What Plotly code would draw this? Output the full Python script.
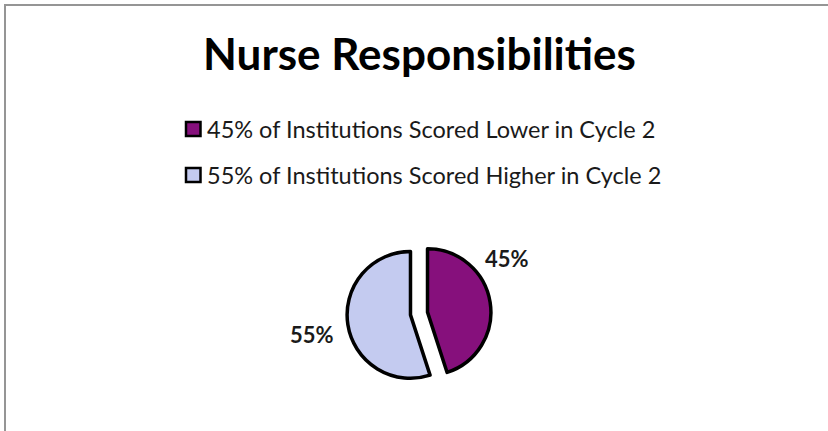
import plotly.graph_objects as go

# data
labels = [
    "45% of Institutions Scored Lower in Cycle 2",
    "55% of Institutions Scored Higher in Cycle 2",
]
shares = [45, 55]
slice_colors = ["#86107c", "#c4cbf0"]

W, H = 828, 431
FONT = "Lato, 'Open Sans', sans-serif"


def fx(px):
    return px / W


def fy(py):
    return 1 - py / H


# pie geometry in pixels
cx, cy, half = 419, 313.5, 72

fig = go.Figure(
    go.Pie(
        labels=labels,
        values=shares,
        sort=False,
        direction="clockwise",
        rotation=0,
        pull=[0.136, 0.136],
        marker=dict(colors=slice_colors, line=dict(color="black", width=3.5)),
        textinfo="none",
        hoverinfo="label+percent",
        showlegend=False,
        domain=dict(x=[fx(cx - half), fx(cx + half)], y=[fy(cy + half), fy(cy - half)]),
    )
)

# outside percentage labels
label_pos = [(506.5, 258), (311.5, 334)]
for v, (px, py) in zip(shares, label_pos):
    fig.add_annotation(
        text=f"<b>{v}%</b>", x=fx(px), y=fy(py), xref="paper", yref="paper",
        xanchor="center", yanchor="middle", showarrow=False,
        font=dict(family=FONT, size=22, color="#1a1a1a"),
    )

# legend drawn by hand so the row spacing matches
legend_rows = [129, 175]
for lab, col, ry in zip(labels, slice_colors, legend_rows):
    fig.add_shape(
        type="rect", xref="paper", yref="paper",
        x0=fx(186), x1=fx(200.5), y0=fy(ry + 7), y1=fy(ry - 7),
        fillcolor=col, line=dict(color="black", width=2.5),
    )
    fig.add_annotation(
        text=lab, x=fx(205), y=fy(ry), xref="paper", yref="paper",
        xanchor="left", yanchor="middle", showarrow=False,
        font=dict(family=FONT, size=23.5, color="#1a1a1a"),
    )

# chart-area border (top and left edges only are visible)
fig.add_shape(
    type="path", xref="paper", yref="paper",
    path=f"M {fx(840)},{fy(5)} L {fx(5)},{fy(5)} L {fx(5)},{fy(450)}",
    line=dict(color="#959595", width=2),
)

fig.update_layout(
    title=dict(
        text="<b>Nurse Responsibilities</b>", x=fx(419.5), xanchor="center",
        y=fy(55), yanchor="middle",
        font=dict(family=FONT, size=44, color="black"),
    ),
    width=W, height=H,
    margin=dict(l=0, r=0, t=0, b=0),
    paper_bgcolor="white",
    plot_bgcolor="white",
)

# drop the browser's default body margin so the figure fills the window
fig.write_html(
    "out.html",
    config={"displayModeBar": False},
    post_script="document.body.style.margin = '0';",
)
